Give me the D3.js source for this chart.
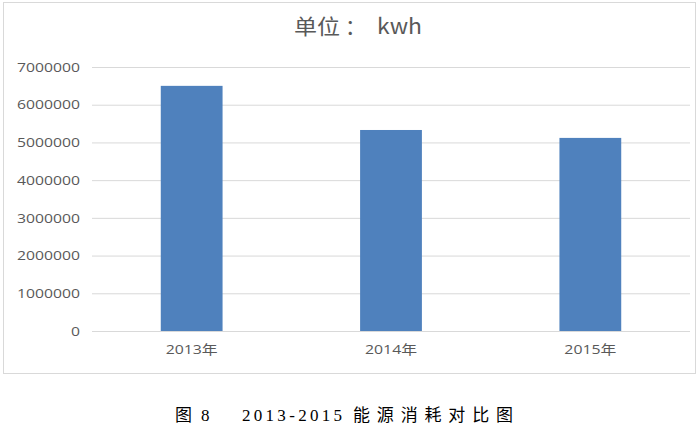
<!DOCTYPE html>
<html>
<head>
<meta charset="utf-8">
<script src="https://cdn.jsdelivr.net/npm/d3@7"></script>
<style>
  body { margin: 0; background: #fff; }
  svg { display: block; }
</style>
</head>
<body>
<script>
const categories = ['2013年', '2014年', '2015年']
const values = [6500000, 5330000, 5120000]
const yTicks = [0, 1000000, 2000000, 3000000, 4000000, 5000000, 6000000, 7000000]

const W = 698, H = 432
const svg = d3.select('body').append('svg').attr('width', W).attr('height', H)

// chart frame
svg.append('rect')
  .attr('x', 3.5).attr('y', 2.5).attr('width', 692).attr('height', 371)
  .attr('fill', '#fff').attr('stroke', '#d9d9d9')

const x = d3.scaleBand().domain(categories).range([92, 690])
  .paddingInner(0.69).paddingOuter(0.345)
const y = d3.scaleLinear().domain([0, 7000000]).range([331, 67])

// gridlines
svg.append('g').selectAll('line').data(yTicks).enter().append('line')
  .attr('x1', 92).attr('x2', 690)
  .attr('y1', d => y(d) + 0.5).attr('y2', d => y(d) + 0.5)
  .attr('stroke', '#d9d9d9').attr('stroke-width', 1)

// y labels (source font is horizontally stretched, so fit the width)
const yAxis = d3.axisLeft(y).tickValues(yTicks).tickSize(0).tickPadding(0).tickFormat(d3.format('d'))
svg.append('g').attr('transform', 'translate(80,0)').call(yAxis)
  .call(g => g.select('.domain').remove())
  .selectAll('text')
  .attr('font-family', 'Open Sans, Noto Sans, sans-serif').attr('font-size', 13).attr('fill', '#595959')
  .attr('textLength', d => String(d).length * 9).attr('lengthAdjust', 'spacingAndGlyphs')

// bars
svg.append('g').selectAll('rect').data(values).enter().append('rect')
  .attr('x', (d, i) => x(categories[i]))
  .attr('y', d => y(d))
  .attr('width', x.bandwidth())
  .attr('height', d => y(0) - y(d))
  .attr('fill', '#4f81bd')

// x labels
const xAxis = d3.axisBottom(x).tickSize(0).tickPadding(14)
svg.append('g').attr('transform', 'translate(0,331)').call(xAxis)
  .call(g => g.select('.domain').remove())
  .selectAll('text')
  .attr('font-family', 'Open Sans, Noto Sans CJK SC, sans-serif').attr('font-size', 13).attr('fill', '#595959')
  .attr('textLength', 52).attr('lengthAdjust', 'spacingAndGlyphs')

// title
const title = svg.append('text').attr('y', 34)
  .attr('font-family', 'Noto Sans CJK SC, sans-serif').attr('font-size', 21).attr('fill', '#595959')
title.append('tspan').attr('x', 294).attr('textLength', 46).attr('lengthAdjust', 'spacingAndGlyphs').text('单位')
title.append('tspan').attr('x', 345).text('：')
title.append('tspan').attr('x', 377).attr('textLength', 45).attr('lengthAdjust', 'spacingAndGlyphs').text('kwh')

// caption
const cap = svg.append('text').attr('y', 421)
  .attr('font-family', 'Liberation Serif, Noto Sans CJK SC, serif').attr('font-size', 17).attr('fill', '#000')
cap.append('tspan').attr('x', 175).text('图')
cap.append('tspan').attr('x', 201).text('8')
cap.append('tspan').attr('x', 242).attr('textLength', 100).attr('lengthAdjust', 'spacing').text('2013-2015')
cap.append('tspan').attr('x', 353).attr('textLength', 160).attr('lengthAdjust', 'spacing').text('能源消耗对比图')
</script>
</body>
</html>
